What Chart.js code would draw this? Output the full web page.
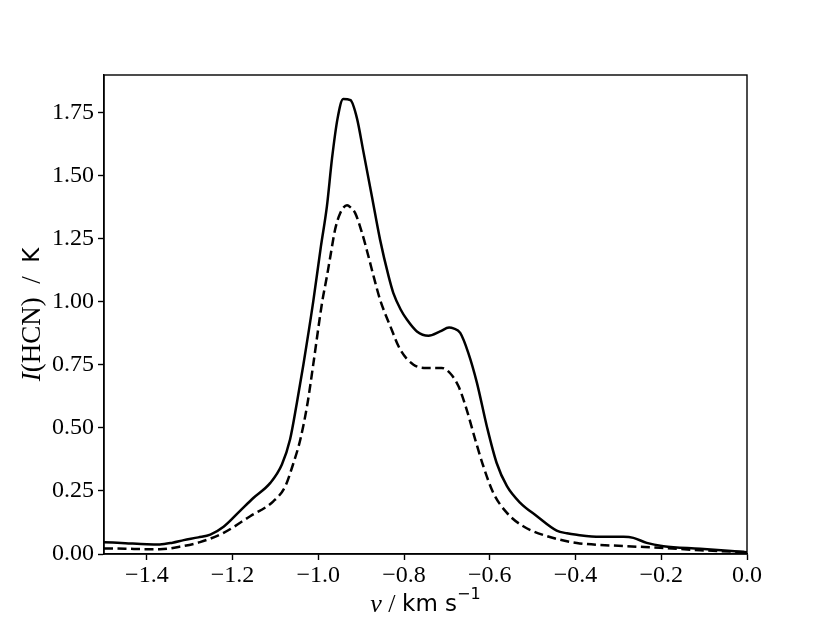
<!DOCTYPE html>
<html>
<head>
<meta charset="utf-8">
<script src="https://cdn.jsdelivr.net/npm/chart.js@4"></script>
<style>
  body { margin: 0; background: #fff; }
  #wrap { width: 830px; height: 623px; }
</style>
</head>
<body>
<div id="wrap"><canvas id="myChart" width="830" height="623"></canvas></div>
<script>
// velocity (km/s) and intensity (K)
const velSolid = [-1.50, -1.45, -1.40, -1.37, -1.34, -1.314, -1.28, -1.252, -1.221, -1.182, -1.151, -1.112, -1.085, -1.066, -1.05, -1.035, -1.012, -0.994, -0.980, -0.968, -0.955, -0.942, -0.925, -0.910, -0.895, -0.875, -0.856, -0.836, -0.825, -0.808, -0.793, -0.770, -0.743, -0.716, -0.695, -0.685, -0.669, -0.650, -0.630, -0.607, -0.584, -0.560, -0.529, -0.490, -0.444, -0.420, -0.397, -0.343, -0.288, -0.265, -0.234, -0.195, -0.109, 0.000];
const intSolid = [0.047, 0.043, 0.039, 0.038, 0.045, 0.055, 0.066, 0.077, 0.108, 0.172, 0.223, 0.282, 0.355, 0.454, 0.60, 0.75, 1.00, 1.22, 1.379, 1.570, 1.729, 1.805, 1.800, 1.729, 1.597, 1.418, 1.247, 1.101, 1.035, 0.970, 0.929, 0.883, 0.866, 0.883, 0.898, 0.895, 0.877, 0.797, 0.679, 0.507, 0.361, 0.269, 0.203, 0.150, 0.093, 0.082, 0.076, 0.068, 0.068, 0.064, 0.044, 0.031, 0.021, 0.007];

const velDashed = [-1.50, -1.45, -1.40, -1.37, -1.32, -1.276, -1.221, -1.159, -1.105, -1.077, -1.058, -1.042, -1.025, -1.012, -0.991, -0.980, -0.972, -0.961, -0.949, -0.933, -0.925, -0.914, -0.898, -0.883, -0.871, -0.856, -0.832, -0.809, -0.778, -0.747, -0.712, -0.693, -0.673, -0.654, -0.634, -0.615, -0.592, -0.560, -0.522, -0.467, -0.397, -0.280, -0.203, -0.109, 0.000];
const intDashed = [0.022, 0.021, 0.019, 0.019, 0.030, 0.047, 0.084, 0.150, 0.209, 0.269, 0.361, 0.454, 0.60, 0.75, 1.00, 1.101, 1.180, 1.286, 1.352, 1.383, 1.375, 1.352, 1.273, 1.180, 1.101, 1.009, 0.903, 0.811, 0.751, 0.738, 0.738, 0.718, 0.665, 0.573, 0.454, 0.348, 0.243, 0.163, 0.110, 0.071, 0.044, 0.031, 0.025, 0.015, 0.007];

const xTicks = [-1.4, -1.2, -1.0, -0.8, -0.6, -0.4, -0.2, 0.0];
const yTicks = [0.00, 0.25, 0.50, 0.75, 1.00, 1.25, 1.50, 1.75];

const serif = '"Liberation Serif", "DejaVu Serif", serif';
const sans = '"DejaVu Sans", "Liberation Sans", sans-serif';

function toPoints(xs, ys) {
  return xs.map((x, i) => ({ x: x, y: ys[i] }));
}

// frame round the plot area + axis titles in mixed fonts
const framePlugin = {
  id: 'frame',
  afterDraw(chart) {
    const ctx = chart.ctx;
    const a = chart.chartArea;
    ctx.save();
    ctx.strokeStyle = '#000';
    ctx.lineWidth = 1.4;
    ctx.strokeRect(a.left, a.top, a.right - a.left, a.bottom - a.top);

    // x title: v / km s^-1
    const xParts = [
      { t: 'v', f: 'italic 26px ' + serif },
      { t: ' / ', f: '26px ' + serif },
      { t: 'km s', f: '23px ' + sans },
      { t: '\u22121', f: '16px ' + sans, up: 10 }
    ];
    drawParts(ctx, xParts, (a.left + a.right) / 2, 605);

    // y title: I(HCN) / K, rotated
    ctx.translate(33, (a.top + a.bottom) / 2);
    ctx.rotate(-Math.PI / 2);
    const yParts = [
      { t: 'I', f: 'italic 27px ' + serif },
      { t: '(HCN)  /  ', f: '27px ' + serif },
      { t: 'K', f: '23px ' + sans }
    ];
    drawParts(ctx, yParts, 0, 0);
    ctx.restore();
  }
};

function drawParts(ctx, parts, cx, cy) {
  let w = 0;
  parts.forEach(p => { ctx.font = p.f; p.w = ctx.measureText(p.t).width; w += p.w; });
  let x = cx - w / 2;
  ctx.fillStyle = '#000';
  ctx.textBaseline = 'middle';
  ctx.textAlign = 'left';
  parts.forEach(p => {
    ctx.font = p.f;
    ctx.fillText(p.t, x, cy - (p.up || 0));
    x += p.w;
  });
}

const config = {
  type: 'line',
  data: {
    datasets: [{
      data: toPoints(velSolid, intSolid),
      borderColor: '#000',
      borderWidth: 2.5,
      pointRadius: 0,
      cubicInterpolationMode: 'monotone'
    }, {
      data: toPoints(velDashed, intDashed),
      borderColor: '#000',
      borderWidth: 2.5,
      borderDash: [9, 4.5],
      pointRadius: 0,
      cubicInterpolationMode: 'monotone'
    }]
  },
  options: {
    responsive: false,
    animation: false,
    layout: { padding: { left: 0, right: 83, top: 75, bottom: 0 } },
    plugins: { legend: { display: false }, tooltip: { enabled: false } },
    scales: {
      x: {
        type: 'linear',
        min: -1.5,
        max: 0.0,
        afterFit(s) { s.height = 69; },
        afterBuildTicks(s) { s.ticks = xTicks.map(v => ({ value: v })); },
        grid: { drawOnChartArea: false, drawTicks: true, tickLength: 6, tickWidth: 1.4, tickColor: '#000' },
        border: { display: true, color: '#000', width: 1.4 },
        ticks: {
          color: '#000',
          padding: 1,
          maxRotation: 0,
          font: { family: serif, size: 24 },
          callback: v => (v < 0 ? '\u2212' : '') + Math.abs(v).toFixed(1)
        }
      },
      y: {
        min: 0,
        max: 1.9,
        afterFit(s) { s.width = 104; },
        afterBuildTicks(s) { s.ticks = yTicks.map(v => ({ value: v })); },
        grid: { drawOnChartArea: false, drawTicks: true, tickLength: 6, tickWidth: 1.4, tickColor: '#000' },
        border: { display: true, color: '#000', width: 1.4 },
        ticks: {
          color: '#000',
          padding: 4,
          font: { family: serif, size: 24 },
          callback: v => v.toFixed(2)
        }
      }
    }
  },
  plugins: [framePlugin]
};

var myChart = new Chart(document.getElementById('myChart'), config);
</script>
</body>
</html>
